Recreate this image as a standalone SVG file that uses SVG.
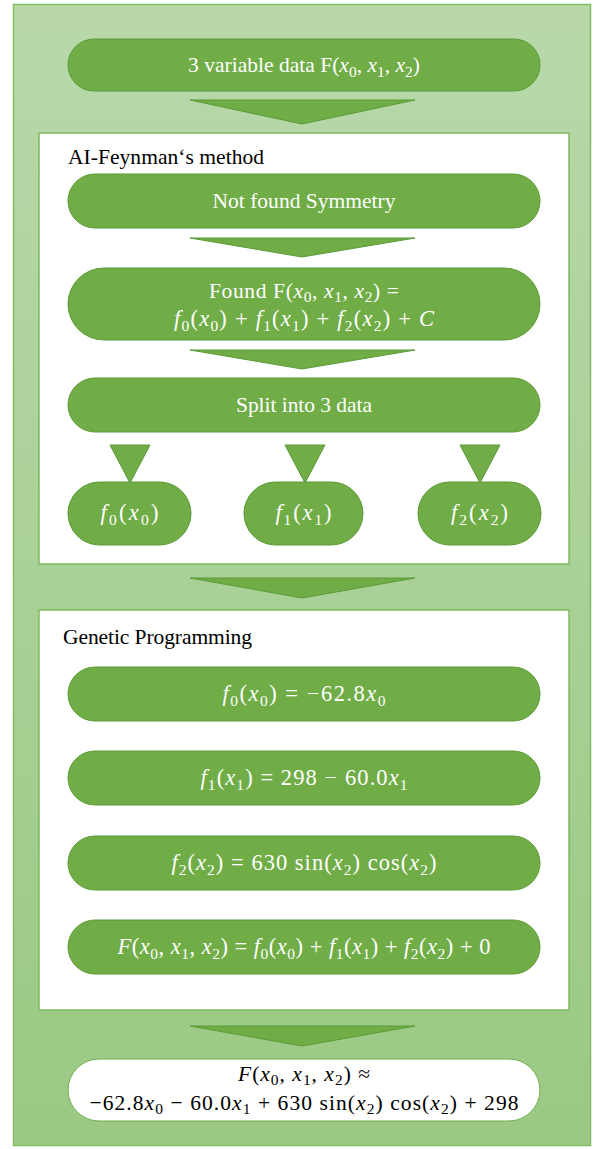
<svg xmlns="http://www.w3.org/2000/svg" width="605" height="1149" viewBox="0 0 605 1149">
<defs>
<linearGradient id="bg" x1="0" y1="0" x2="0" y2="1">
<stop offset="0" stop-color="#b8d8aa"/>
<stop offset="1" stop-color="#9bc984"/>
</linearGradient>
</defs>
<style>
.node{fill:#70ad47;stroke:#5a9a36;stroke-width:1}
.wnode{fill:#ffffff;stroke:#70ad47;stroke-width:1}
.panel{fill:#ffffff;stroke:#7dba5e;stroke-width:1.5}
.arr{fill:#70ad47;stroke:#5a9a36;stroke-width:1}
.t{font-family:'Liberation Serif',serif;font-size:21.5px;fill:#ffffff;text-anchor:middle}
.m{font-family:'Liberation Serif',serif;font-size:22.5px;fill:#ffffff;text-anchor:middle}
.mb{font-family:'Liberation Serif',serif;font-size:21.5px;fill:#000000;text-anchor:middle}
.h{font-family:'Liberation Serif',serif;font-size:21.5px;fill:#000000}
.i{font-style:italic}
.s{font-size:15.5px}
</style>
<rect x="13.5" y="4.5" width="577" height="1141" fill="url(#bg)" stroke="#82bc65" stroke-width="1.5"/>

<g id="aifeynman">
<rect class="panel" x="39" y="133" width="530" height="431"/>
<text class="h" x="68" y="164" textLength="196" lengthAdjust="spacing">AI-Feynman‘s method</text>
</g>

<g id="gp">
<rect class="panel" x="39" y="610" width="530" height="400"/>
<text class="h" x="63" y="644" textLength="189" lengthAdjust="spacing">Genetic Programming</text>
</g>

<g id="connectors">
<polygon class="arr" points="190,100 415,100 302,124"/>
<polygon class="arr" points="190,238 415,238 302,257"/>
<polygon class="arr" points="190,350 415,350 302,369"/>
<polygon class="arr" points="110,445 150,445 130,483"/>
<polygon class="arr" points="285,445 325,445 305,483"/>
<polygon class="arr" points="460,445 500,445 480,483"/>
<polygon class="arr" points="190,578 415,578 302,598"/>
<polygon class="arr" points="190,1026 415,1026 302,1046"/>
</g>

<g id="input">
<rect class="node" x="68" y="39" width="472" height="52" rx="26"/>
<text class="t" x="304" y="72" textLength="232" lengthAdjust="spacing">3 variable data F(<tspan class="i">x</tspan><tspan class="s" dy="5">0</tspan><tspan dy="-5">, </tspan><tspan class="i">x</tspan><tspan class="s" dy="5">1</tspan><tspan dy="-5">, </tspan><tspan class="i">x</tspan><tspan class="s" dy="5">2</tspan><tspan dy="-5">)</tspan></text>
</g>

<g id="nosym">
<rect class="node" x="68" y="174" width="472" height="54" rx="27"/>
<text class="t" x="304" y="208" textLength="183" lengthAdjust="spacing">Not found Symmetry</text>
</g>

<g id="found">
<rect class="node" x="68" y="268" width="472" height="72" rx="36"/>
<text class="t" x="304" y="298" textLength="190" lengthAdjust="spacing">Found F(<tspan class="i">x</tspan><tspan class="s" dy="4">0</tspan><tspan dy="-4">, </tspan><tspan class="i">x</tspan><tspan class="s" dy="4">1</tspan><tspan dy="-4">, </tspan><tspan class="i">x</tspan><tspan class="s" dy="4">2</tspan><tspan dy="-4">) =</tspan></text>
<text class="m" x="304" y="326" textLength="260" lengthAdjust="spacing"><tspan class="i">f</tspan><tspan class="s" dy="5">0</tspan><tspan dy="-5">(</tspan><tspan class="i">x</tspan><tspan class="s" dy="5">0</tspan><tspan dy="-5">) + </tspan><tspan class="i">f</tspan><tspan class="s" dy="5">1</tspan><tspan dy="-5">(</tspan><tspan class="i">x</tspan><tspan class="s" dy="5">1</tspan><tspan dy="-5">) + </tspan><tspan class="i">f</tspan><tspan class="s" dy="5">2</tspan><tspan dy="-5">(</tspan><tspan class="i">x</tspan><tspan class="s" dy="5">2</tspan><tspan dy="-5">) + </tspan><tspan class="i">C</tspan></text>
</g>

<g id="split">
<rect class="node" x="68" y="378" width="472" height="54" rx="27"/>
<text class="t" x="304" y="412" textLength="136" lengthAdjust="spacing">Split into 3 data</text>
</g>

<g id="f0">
<rect class="node" x="68" y="482" width="123" height="63" rx="31.5"/>
<text class="m" x="129.5" y="520" textLength="58" lengthAdjust="spacing"><tspan class="i">f</tspan><tspan class="s" dy="5">0</tspan><tspan dy="-5">(</tspan><tspan class="i">x</tspan><tspan class="s" dy="5">0</tspan><tspan dy="-5">)</tspan></text>
</g>
<g id="f1">
<rect class="node" x="244" y="482" width="119" height="63" rx="31.5"/>
<text class="m" x="303.5" y="520" textLength="56" lengthAdjust="spacing"><tspan class="i">f</tspan><tspan class="s" dy="5">1</tspan><tspan dy="-5">(</tspan><tspan class="i">x</tspan><tspan class="s" dy="5">1</tspan><tspan dy="-5">)</tspan></text>
</g>
<g id="f2">
<rect class="node" x="418" y="482" width="123" height="63" rx="31.5"/>
<text class="m" x="479.5" y="520" textLength="57" lengthAdjust="spacing"><tspan class="i">f</tspan><tspan class="s" dy="5">2</tspan><tspan dy="-5">(</tspan><tspan class="i">x</tspan><tspan class="s" dy="5">2</tspan><tspan dy="-5">)</tspan></text>
</g>

<g id="eq0">
<rect class="node" x="68" y="667" width="472" height="54" rx="27"/>
<text class="m" x="304" y="701" textLength="163" lengthAdjust="spacing"><tspan class="i">f</tspan><tspan class="s" dy="5">0</tspan><tspan dy="-5">(</tspan><tspan class="i">x</tspan><tspan class="s" dy="5">0</tspan><tspan dy="-5">) = −62.8</tspan><tspan class="i">x</tspan><tspan class="s" dy="5">0</tspan></text>
</g>
<g id="eq1">
<rect class="node" x="68" y="751" width="472" height="54" rx="27"/>
<text class="m" x="304" y="785" textLength="207" lengthAdjust="spacing"><tspan class="i">f</tspan><tspan class="s" dy="5">1</tspan><tspan dy="-5">(</tspan><tspan class="i">x</tspan><tspan class="s" dy="5">1</tspan><tspan dy="-5">) = 298 − 60.0</tspan><tspan class="i">x</tspan><tspan class="s" dy="5">1</tspan></text>
</g>
<g id="eq2">
<rect class="node" x="68" y="836" width="472" height="54" rx="27"/>
<text class="m" x="304" y="870" textLength="265" lengthAdjust="spacing"><tspan class="i">f</tspan><tspan class="s" dy="5">2</tspan><tspan dy="-5">(</tspan><tspan class="i">x</tspan><tspan class="s" dy="5">2</tspan><tspan dy="-5">) = 630 sin(</tspan><tspan class="i">x</tspan><tspan class="s" dy="5">2</tspan><tspan dy="-5">) cos(</tspan><tspan class="i">x</tspan><tspan class="s" dy="5">2</tspan><tspan dy="-5">)</tspan></text>
</g>
<g id="eqF">
<rect class="node" x="68" y="920" width="472" height="54" rx="27"/>
<text class="m" x="304" y="954" textLength="373" lengthAdjust="spacing"><tspan class="i">F</tspan>(<tspan class="i">x</tspan><tspan class="s" dy="5">0</tspan><tspan dy="-5">, </tspan><tspan class="i">x</tspan><tspan class="s" dy="5">1</tspan><tspan dy="-5">, </tspan><tspan class="i">x</tspan><tspan class="s" dy="5">2</tspan><tspan dy="-5">) = </tspan><tspan class="i">f</tspan><tspan class="s" dy="5">0</tspan><tspan dy="-5">(</tspan><tspan class="i">x</tspan><tspan class="s" dy="5">0</tspan><tspan dy="-5">) + </tspan><tspan class="i">f</tspan><tspan class="s" dy="5">1</tspan><tspan dy="-5">(</tspan><tspan class="i">x</tspan><tspan class="s" dy="5">1</tspan><tspan dy="-5">) + </tspan><tspan class="i">f</tspan><tspan class="s" dy="5">2</tspan><tspan dy="-5">(</tspan><tspan class="i">x</tspan><tspan class="s" dy="5">2</tspan><tspan dy="-5">) + 0</tspan></text>
</g>

<g id="result">
<rect class="wnode" x="68" y="1059" width="472" height="62" rx="31"/>
<text class="mb" x="304" y="1081" textLength="132" lengthAdjust="spacing"><tspan class="i">F</tspan>(<tspan class="i">x</tspan><tspan class="s" dy="4">0</tspan><tspan dy="-4">, </tspan><tspan class="i">x</tspan><tspan class="s" dy="4">1</tspan><tspan dy="-4">, </tspan><tspan class="i">x</tspan><tspan class="s" dy="4">2</tspan><tspan dy="-4">) ≈</tspan></text>
<text class="mb" x="304" y="1110" textLength="429" lengthAdjust="spacing">−62.8<tspan class="i">x</tspan><tspan class="s" dy="4">0</tspan><tspan dy="-4"> − 60.0</tspan><tspan class="i">x</tspan><tspan class="s" dy="4">1</tspan><tspan dy="-4"> + 630 sin(</tspan><tspan class="i">x</tspan><tspan class="s" dy="4">2</tspan><tspan dy="-4">) cos(</tspan><tspan class="i">x</tspan><tspan class="s" dy="4">2</tspan><tspan dy="-4">) + 298</tspan></text>
</g>
</svg>
